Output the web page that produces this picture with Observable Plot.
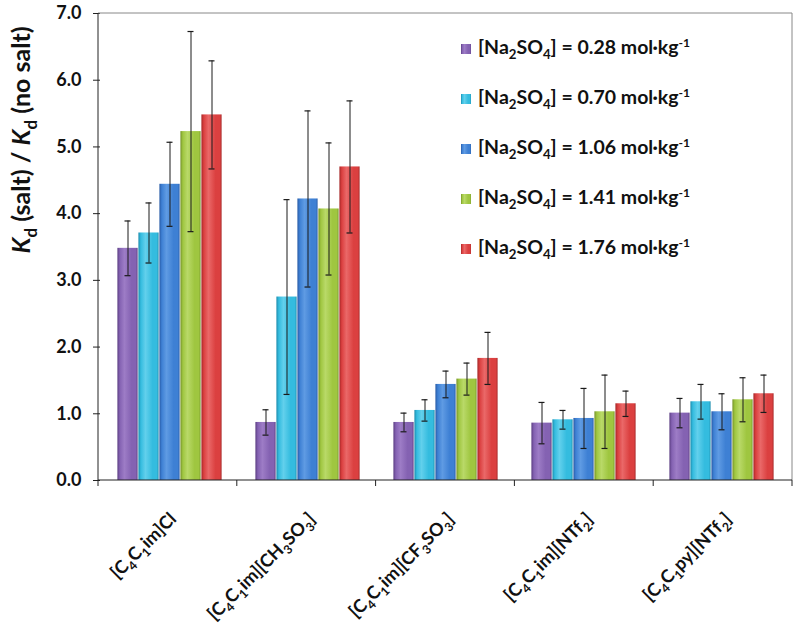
<!DOCTYPE html>
<html><head><meta charset="utf-8">
<script src="https://cdn.jsdelivr.net/npm/d3@7"></script>
<script src="https://cdn.jsdelivr.net/npm/@observablehq/plot@0.6"></script>
<style>
body{margin:0;background:#fff}
#chart{width:800px;height:638px}
</style>
</head><body><div id="chart"></div>
<script>
// ---- data ----
const categories = ["[C_{4}C_{1}im]Cl", "[C_{4}C_{1}im][CH_{3}SO_{3}]", "[C_{4}C_{1}im][CF_{3}SO_{3}]", "[C_{4}C_{1}im][NTf_{2}]", "[C_{4}C_{1}py][NTf_{2}]"];
const seriesNames = [
  "[Na_{2}SO_{4}] = 0.28 mol·kg^{-1}",
  "[Na_{2}SO_{4}] = 0.70 mol·kg^{-1}",
  "[Na_{2}SO_{4}] = 1.06 mol·kg^{-1}",
  "[Na_{2}SO_{4}] = 1.41 mol·kg^{-1}",
  "[Na_{2}SO_{4}] = 1.76 mol·kg^{-1}"
];
const s028 = [3.48, 0.87, 0.87, 0.86, 1.01];
const s070 = [3.71, 2.75, 1.05, 0.91, 1.18];
const s106 = [4.44, 4.22, 1.44, 0.93, 1.03];
const s141 = [5.23, 4.07, 1.52, 1.03, 1.21];
const s176 = [5.48, 4.70, 1.83, 1.15, 1.30];
const e028 = [0.41, 0.19, 0.14, 0.31, 0.22];
const e070 = [0.45, 1.46, 0.16, 0.14, 0.26];
const e106 = [0.63, 1.32, 0.20, 0.45, 0.27];
const e141 = [1.50, 0.99, 0.24, 0.55, 0.33];
const e176 = [0.81, 0.99, 0.39, 0.19, 0.28];
const yTicks = [0, 1, 2, 3, 4, 5, 6, 7];
const yTitle = "{K}_{d} (salt) / {K}_{d} (no salt)";

// colours: [dark edge, light, base]
const palette = [
  ["#5b3d82", "#9d7cc6", "#8462b2"],
  ["#1c8cad", "#62d0ec", "#34bcdf"],
  ["#285ba6", "#5f9be3", "#3e80d4"],
  ["#75932a", "#b9d968", "#9fc640"],
  ["#a52727", "#ea6868", "#db4040"]
];

const values = [s028, s070, s106, s141, s176];
const errors = [e028, e070, e106, e141, e176];
const data = [];
categories.forEach((c, ci) => seriesNames.forEach((s, si) => {
  data.push({cat: c, ser: s, si, v: values[si][ci], e: errors[si][ci]});
}));

const font = "Lato, 'Open Sans', sans-serif";

const chart = Plot.plot({
  width: 800, height: 638,
  marginLeft: 98, marginRight: 8, marginTop: 13, marginBottom: 158,
  style: {fontFamily: font, background: "white", overflow: "visible"},
  fx: {domain: categories, padding: 0, axis: null, label: null},
  x: {domain: seriesNames, paddingInner: 0, paddingOuter: 0.78, axis: null},
  y: {domain: [0, 7], axis: null},
  color: {type: "identity"},
  marks: [
    Plot.barY(data, {fx: "cat", x: "ser", y: "v", fill: d => `url(#grad${d.si})`, insetLeft: 0.4, insetRight: 0.4}),
    Plot.ruleX(data, {fx: "cat", x: "ser", y1: d => d.v - d.e, y2: d => d.v + d.e, stroke: "#1a1a1a", strokeWidth: 1}),
    Plot.tickY(data, {fx: "cat", x: "ser", y: d => d.v - d.e, stroke: "#1a1a1a", strokeWidth: 1.2, insetLeft: 7.5, insetRight: 7.5}),
    Plot.tickY(data, {fx: "cat", x: "ser", y: d => d.v + d.e, stroke: "#1a1a1a", strokeWidth: 1.2, insetLeft: 7.5, insetRight: 7.5}),
    Plot.axisY({ticks: yTicks, tickFormat: d3.format(".1f"), tickSize: 7, tickPadding: 12, fontSize: 18, fontWeight: "bold", label: null, stroke: "#222", color: "#111"})
  ]
});
document.getElementById("chart").appendChild(chart);

const svg = d3.select(chart);
const fxs = chart.scale("fx");
const ys = chart.scale("y");
const pLeft = fxs.range[0], pRight = fxs.range[1];
const pTop = ys.apply(7), pBottom = ys.apply(0);
const step = (pRight - pLeft) / categories.length;

// gradient defs
const defs = svg.insert("defs", ":first-child");
palette.forEach((p, i) => {
  const g = defs.append("linearGradient").attr("id", "grad" + i).attr("x1", "0").attr("x2", "1").attr("y1", "0").attr("y2", "0");
  [[0, p[0]], [0.12, p[2]], [0.35, p[1]], [0.7, p[2]], [0.92, p[2]], [1, p[0]]].forEach(([o, c]) =>
    g.append("stop").attr("offset", o).attr("stop-color", c));
});

// rich text helper: _{..} subscript, ^{..} superscript, {..} italic
function rich(sel, str, size) {
  const re = /_\{([^}]*)\}|\^\{([^}]*)\}|\{([^}]*)\}|([^_^{]+)/g;
  let m, shift = 0;
  while ((m = re.exec(str))) {
    let t = sel.append("tspan");
    let target = 0;
    if (m[1] != null) { t.text(m[1]).attr("font-size", size * 0.68); target = size * 0.28; }
    else if (m[2] != null) { t.text(m[2]).attr("font-size", size * 0.62); target = -size * 0.38; }
    else if (m[3] != null) { t.text(m[3]).attr("font-style", "italic"); }
    else { t.text(m[4]); }
    if (target !== shift) { t.attr("dy", target - shift); shift = target; }
  }
}

const overlay = svg.append("g").attr("font-family", font).attr("font-weight", "bold").attr("fill", "#111").attr("text-anchor", "start");

// frame
overlay.append("line").attr("x1", pLeft).attr("x2", pRight).attr("y1", pTop).attr("y2", pTop).attr("stroke", "#888").attr("stroke-width", 1);
overlay.append("line").attr("x1", pRight).attr("x2", pRight).attr("y1", pTop).attr("y2", pBottom).attr("stroke", "#888").attr("stroke-width", 1);
overlay.append("line").attr("x1", pLeft).attr("x2", pLeft).attr("y1", pTop).attr("y2", pBottom).attr("stroke", "#222").attr("stroke-width", 1);
overlay.append("line").attr("x1", pLeft).attr("x2", pRight).attr("y1", pBottom).attr("y2", pBottom).attr("stroke", "#222").attr("stroke-width", 1);

// category boundary ticks
categories.forEach((c, i) => {
  const b = pLeft + i * step;
  overlay.append("line").attr("x1", b).attr("x2", b).attr("y1", pBottom).attr("y2", pBottom + 6).attr("stroke", "#222");
});
overlay.append("line").attr("x1", pRight).attr("x2", pRight).attr("y1", pBottom).attr("y2", pBottom + 6).attr("stroke", "#222");

// rotated category labels with real subscripts
categories.forEach((c, i) => {
  const cx = pLeft + (i + 0.5) * step + 10;
  const cy = pBottom + 40;
  const g = overlay.append("g").attr("transform", `translate(${cx.toFixed(1)},${cy.toFixed(1)}) rotate(-45)`);
  const t = g.append("text").attr("text-anchor", "end").attr("font-size", 18);
  rich(t, c, 18);
});

// y title
const ytg = overlay.append("g").attr("transform", "translate(30,140) rotate(-90)");
const yt = ytg.append("text").attr("text-anchor", "middle").attr("font-size", 25);
rich(yt, yTitle, 25);

// legend
seriesNames.forEach((s, i) => {
  const cy = 48 + i * 50;
  overlay.append("rect").attr("x", 461).attr("y", cy - 4).attr("width", 10).attr("height", 10).attr("fill", `url(#grad${i})`);
  const t = overlay.append("text").attr("x", 478).attr("y", cy + 6).attr("font-size", 19.5).attr("text-anchor", "start");
  rich(t, s, 19.5);
});
</script>
</body></html>
